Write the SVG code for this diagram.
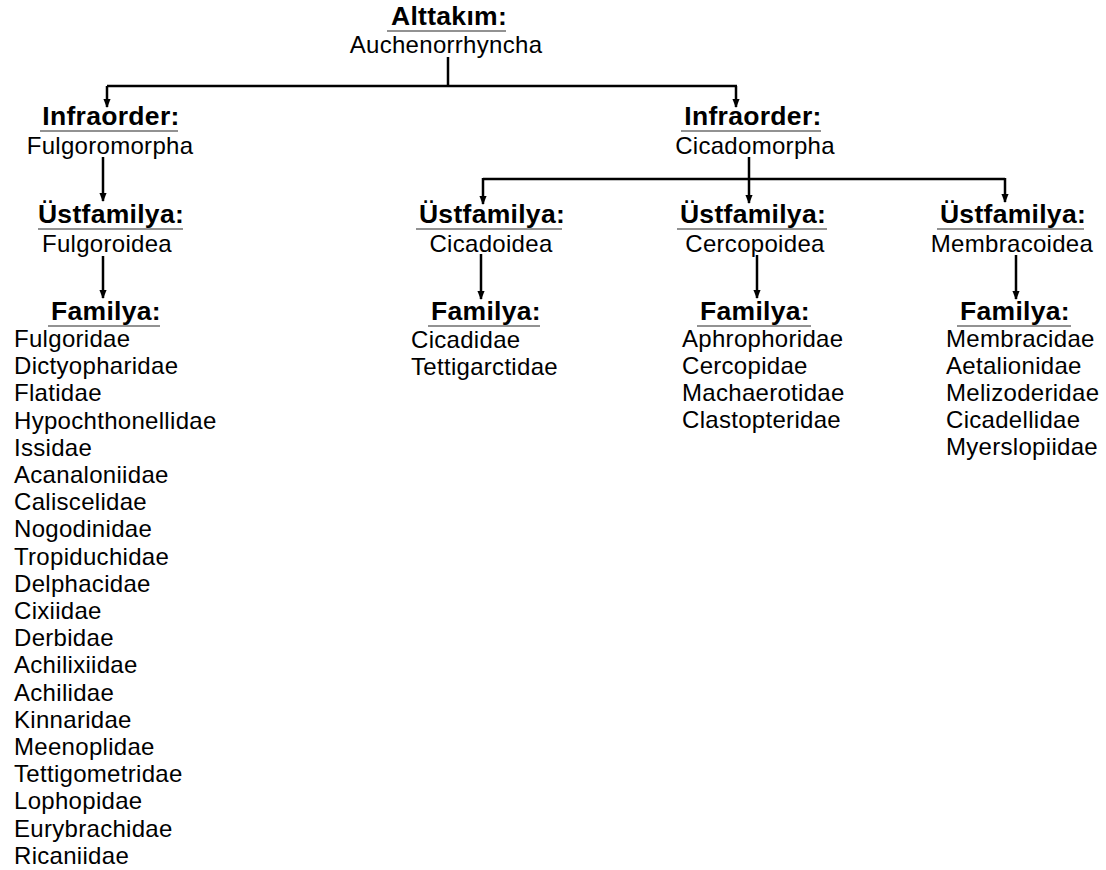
<svg xmlns="http://www.w3.org/2000/svg" width="1106" height="870" viewBox="0 0 1106 870">
<style>
.h{font-family:"Liberation Sans",Arial,sans-serif;font-weight:bold;font-size:26.5px;letter-spacing:0.3px;text-anchor:middle;fill:#000}
.t{font-family:"Liberation Sans",Arial,sans-serif;font-size:24px;letter-spacing:0.3px;fill:#000}
.c{text-anchor:middle}
.u{stroke:#6e6e6e;stroke-width:1.5;fill:none}
.e{stroke:#000;stroke-width:2.5;fill:none}
.a{marker-end:url(#ah)}
</style>
<defs>
<marker id="ah" markerUnits="userSpaceOnUse" markerWidth="9" markerHeight="9" refX="9" refY="4" orient="auto" viewBox="0 0 10 8">
<path d="M0,0 L10,4 L0,8 z" fill="#000"/>
</marker>
</defs>
<rect width="1106" height="870" fill="#fff"/>
<g id="connectors">
<path class="e" d="M448,57 V86"/>
<path class="e" d="M107,86 H737"/>
<path class="e a" d="M107,86 V107"/>
<path class="e a" d="M736,86 V107"/>
<path class="e a" d="M103,157 V201"/>
<path class="e a" d="M103,256 V298"/>
<path class="e a" d="M749,157 V203"/>
<path class="e" d="M483,179 H1005"/>
<path class="e a" d="M483,178 V204"/>
<path class="e a" d="M1005,178 V202"/>
<path class="e a" d="M481,254 V299"/>
<path class="e a" d="M757,255 V298"/>
<path class="e a" d="M1016,255 V299"/>
</g>
<g id="alttakim">
<text class="h" x="449" y="25">Alttakım:</text>
<line class="u" x1="387" y1="31" x2="506" y2="31"/>
<text class="t c" x="446" y="53">Auchenorrhyncha</text>
</g>
<g id="infra-fulgoromorpha">
<text class="h" x="111" y="125">Infraorder:</text>
<line class="u" x1="40" y1="131" x2="178" y2="131"/>
<text class="t c" x="110" y="154">Fulgoromorpha</text>
</g>
<g id="infra-cicadomorpha">
<text class="h" x="753" y="125">Infraorder:</text>
<line class="u" x1="681" y1="131" x2="821" y2="131"/>
<text class="t c" x="755" y="154">Cicadomorpha</text>
</g>
<g id="ust-fulgoroidea">
<text class="h" x="111" y="223">Üstfamilya:</text>
<line class="u" x1="38" y1="229" x2="183" y2="229"/>
<text class="t c" x="107" y="252">Fulgoroidea</text>
</g>
<g id="ust-cicadoidea">
<text class="h" x="492" y="223">Üstfamilya:</text>
<line class="u" x1="416" y1="229" x2="562" y2="229"/>
<text class="t c" x="491" y="252">Cicadoidea</text>
</g>
<g id="ust-cercopoidea">
<text class="h" x="753" y="223">Üstfamilya:</text>
<line class="u" x1="677" y1="229" x2="827" y2="229"/>
<text class="t c" x="755" y="252">Cercopoidea</text>
</g>
<g id="ust-membracoidea">
<text class="h" x="1013" y="223">Üstfamilya:</text>
<line class="u" x1="937" y1="229" x2="1084" y2="229"/>
<text class="t c" x="1012" y="252">Membracoidea</text>
</g>
<g id="fam-fulgoroidea">
<text class="h" x="106" y="320">Familya:</text>
<line class="u" x1="48" y1="326" x2="160" y2="326"/>
<text class="t" x="14" y="347">Fulgoridae</text>
<text class="t" x="14" y="374.2">Dictyopharidae</text>
<text class="t" x="14" y="401.4">Flatidae</text>
<text class="t" x="14" y="428.6">Hypochthonellidae</text>
<text class="t" x="14" y="455.8">Issidae</text>
<text class="t" x="14" y="483">Acanaloniidae</text>
<text class="t" x="14" y="510.2">Caliscelidae</text>
<text class="t" x="14" y="537.4">Nogodinidae</text>
<text class="t" x="14" y="564.6">Tropiduchidae</text>
<text class="t" x="14" y="591.8">Delphacidae</text>
<text class="t" x="14" y="619">Cixiidae</text>
<text class="t" x="14" y="646.2">Derbidae</text>
<text class="t" x="14" y="673.4">Achilixiidae</text>
<text class="t" x="14" y="700.6">Achilidae</text>
<text class="t" x="14" y="727.8">Kinnaridae</text>
<text class="t" x="14" y="755">Meenoplidae</text>
<text class="t" x="14" y="782.2">Tettigometridae</text>
<text class="t" x="14" y="809.4">Lophopidae</text>
<text class="t" x="14" y="836.6">Eurybrachidae</text>
<text class="t" x="14" y="863.8">Ricaniidae</text>
</g>
<g id="fam-cicadoidea">
<text class="h" x="486" y="320">Familya:</text>
<line class="u" x1="428" y1="326" x2="540" y2="326"/>
<text class="t" x="411" y="348">Cicadidae</text>
<text class="t" x="411" y="375">Tettigarctidae</text>
</g>
<g id="fam-cercopoidea">
<text class="h" x="755" y="320">Familya:</text>
<line class="u" x1="697" y1="326" x2="811" y2="326"/>
<text class="t" x="682" y="347">Aphrophoridae</text>
<text class="t" x="682" y="374">Cercopidae</text>
<text class="t" x="682" y="401">Machaerotidae</text>
<text class="t" x="682" y="428">Clastopteridae</text>
</g>
<g id="fam-membracoidea">
<text class="h" x="1015" y="320">Familya:</text>
<line class="u" x1="957" y1="326" x2="1071" y2="326"/>
<text class="t" x="946" y="347">Membracidae</text>
<text class="t" x="946" y="374">Aetalionidae</text>
<text class="t" x="946" y="401">Melizoderidae</text>
<text class="t" x="946" y="428">Cicadellidae</text>
<text class="t" x="946" y="455">Myerslopiidae</text>
</g>
</svg>
